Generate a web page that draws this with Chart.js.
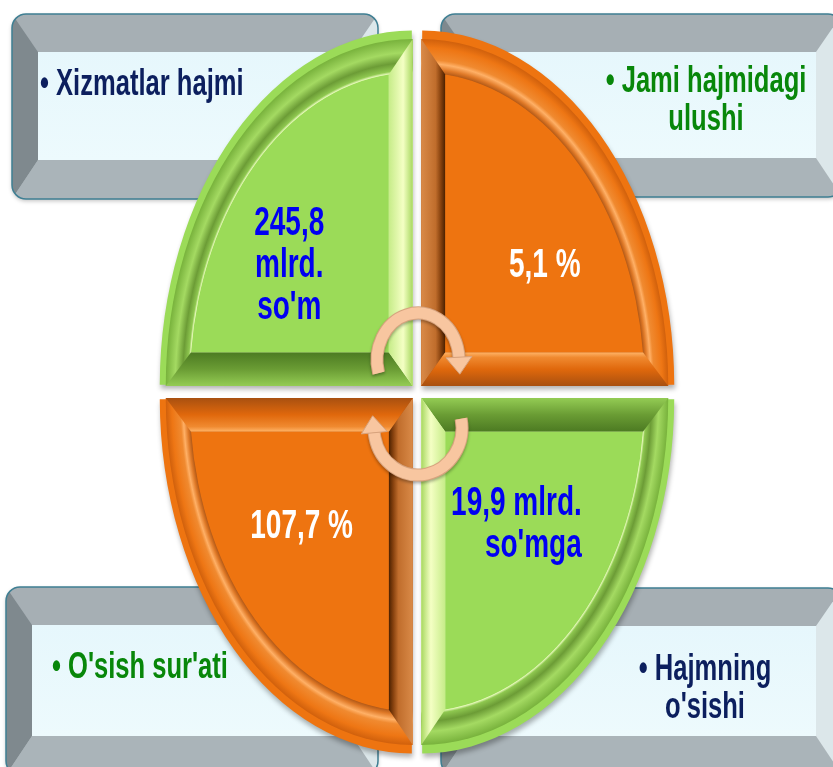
<!DOCTYPE html>
<html>
<head>
<meta charset="utf-8">
<script src="https://cdn.jsdelivr.net/npm/chart.js@4.4.0/dist/chart.umd.min.js"></script>
<style>
  html, body { margin: 0; padding: 0; background: #fff; }
  #myChart { display: block; }
</style>
</head>
<body>
<canvas id="myChart" width="833" height="767"></canvas>
<script>
// data: four equal quadrants, each carrying one indicator
const categories = ["Xizmatlar hajmi", "Jami hajmidagi ulushi", "Hajmning o'sishi", "O'sish sur'ati"];
const valueTexts = ["245,8 mlrd. so'm", "5,1 %", "19,9 mlrd. so'mga", "107,7 %"];
const shares = [1, 1, 1, 1];

const NAVY = "#0c1f5e";
const DARKGREEN = "#08870a";
const BLUE = "#0000f2";

const palettes = {
    green: {
        face: "#9bdb58",
        curve: [[0, "#f2ffc8"], [0.08, "#8fc850"], [0.3, "#6c9c36"], [0.6, "#a4da62"], [1, "#78b23c"]],
        dark: [[0, "#94cc54"], [0.5, "#6a9c34"], [1, "#4c7a22"]],
        light: [[0, "#a8d860"], [0.4, "#f4ffc4"], [1, "#c6ec88"]],
        text: BLUE
    },
    orange: {
        face: "#ee7410",
        curve: [[0, "#b35a18"], [0.12, "#e07a28"], [0.28, "#ffb066"], [0.4, "#f08a30"], [0.75, "#ee7614"], [1, "#d0600c"]],
        dark: [[0, "#d98a48"], [0.6, "#c06d2c"], [0.8, "#8a4410"], [1, "#4a2000"]],
        light: [[0, "#a85010"], [0.5, "#e0680c"], [0.85, "#f08a30"], [1, "#ffb468"]],
        text: "#ffffff"
    }
};

const sliceLayout = [
    { kind: "green", dx: -0.5, dy: -0.5, align: "center", wrap: 90 },
    { kind: "orange", dx: 0.5, dy: -0.5, align: "center", wrap: 200 },
    { kind: "green", dx: 0.65, dy: 0.5, align: "right", wrap: 140 },
    { kind: "orange", dx: -0.45, dy: 0.51, align: "center", wrap: 200 }
];

const boxLayout = [
    { x0: 12, y0: 14, x1: 378, y1: 199, tx: 40, ty: 95, align: "left", wrap: 400, color: NAVY },
    { x0: 441, y0: 14, x1: 842, y1: 197, tx: 706, ty: 92, align: "center", wrap: 210, color: DARKGREEN },
    { x0: 441, y0: 588, x1: 842, y1: 775, tx: 705, ty: 680, align: "center", wrap: 150, color: NAVY },
    { x0: 6, y0: 587, x1: 378, y1: 775, tx: 52, ty: 678, align: "left", wrap: 400, color: DARKGREEN }
];

const KY = 1.405;   // vertical stretch of the circle
const BEVEL = 24;
const FONT = '"Liberation Sans", Arial, sans-serif';

let wrapText = (ctx, text, maxW, sx) => {
    let words = text.split(" "), lines = [], cur = "";
    words.forEach(w => {
        let test = cur ? cur + " " + w : w;
        if (cur && ctx.measureText(test).width * sx > maxW) {
            lines.push(cur);
            cur = w;
        } else {
            cur = test;
        }
    });
    if (cur) lines.push(cur);
    return lines;
};

let squeezedText = (ctx, str, x, y, align, sx) => {
    ctx.save();
    ctx.translate(x, y);
    ctx.scale(sx, 1);
    ctx.textAlign = align;
    ctx.fillText(str, 0, 0);
    ctx.restore();
};

let poly = (ctx, pts, fill) => {
    ctx.beginPath();
    ctx.moveTo(pts[0][0], pts[0][1]);
    for (let i = 1; i < pts.length; i++) ctx.lineTo(pts[i][0], pts[i][1]);
    ctx.closePath();
    ctx.fillStyle = fill;
    ctx.fill();
};

let linGrad = (ctx, p, q, stops) => {
    let g = ctx.createLinearGradient(p[0], p[1], q[0], q[1]);
    stops.forEach(s => g.addColorStop(s[0], s[1]));
    return g;
};

let drawBox = (ctx, b) => {
    const bl = 26, bt = 38, bb = 39;
    let { x0, y0, x1, y1 } = b;
    ctx.save();
    ctx.shadowColor = "rgba(0,0,0,0.25)";
    ctx.shadowBlur = 4;
    ctx.shadowOffsetY = 2;
    ctx.beginPath();
    ctx.roundRect(x0, y0, x1 - x0, y1 - y0, 14);
    ctx.fillStyle = "#a9b2b7";
    ctx.fill();
    ctx.restore();

    ctx.save();
    ctx.beginPath();
    ctx.roundRect(x0, y0, x1 - x0, y1 - y0, 14);
    ctx.clip();
    poly(ctx, [[x0, y0], [x1, y0], [x1 - bl, y0 + bt], [x0 + bl, y0 + bt]], "#a6afb4");
    poly(ctx, [[x0, y0], [x0 + bl, y0 + bt], [x0 + bl, y1 - bb], [x0, y1]], "#7f898e");
    poly(ctx, [[x0, y1], [x0 + bl, y1 - bb], [x1 - bl, y1 - bb], [x1, y1]], "#aab4b9");
    poly(ctx, [[x1, y0], [x1, y1], [x1 - bl, y1 - bb], [x1 - bl, y0 + bt]], "#dce7ea");
    ctx.fillStyle = linGrad(ctx, [0, y0 + bt], [0, y1 - bb], [[0, "#e6f7fc"], [1, "#edfafd"]]);
    ctx.fillRect(x0 + bl, y0 + bt, x1 - x0 - 2 * bl, y1 - y0 - bt - bb);
    ctx.restore();

    ctx.beginPath();
    ctx.roundRect(x0, y0, x1 - x0, y1 - y0, 14);
    ctx.strokeStyle = "#3f7f93";
    ctx.lineWidth = 1.5;
    ctx.stroke();
};

let drawBevel = (ctx, arc, pal) => {
    const off = (arc.options.offset || 0) / 4;
    const a0 = arc.startAngle, a1 = arc.endAngle, mid = (a0 + a1) / 2;
    const cx = arc.x + Math.cos(mid) * off, cy = arc.y + Math.sin(mid) * off;
    const R = arc.outerRadius, T = BEVEL;
    const u0 = [Math.cos(a0), Math.sin(a0)], u1 = [Math.cos(a1), Math.sin(a1)];
    const P = (s, w) => [cx + s * u0[0] + w * u1[0], cy + s * u0[1] + w * u1[1]];
    const ri = R - T, s = Math.sqrt(ri * ri - T * T), da = Math.asin(T / ri);

    // curved outer band
    let rg = ctx.createRadialGradient(cx, cy, ri, cx, cy, R);
    pal.curve.forEach(c => rg.addColorStop(c[0], c[1]));
    ctx.beginPath();
    ctx.moveTo(cx, cy);
    ctx.arc(cx, cy, R, a0, a1);
    ctx.closePath();
    ctx.fillStyle = rg;
    ctx.fill();

    // straight bands
    poly(ctx, [P(0, 0), P(R, 0), P(s, T), P(T, T)], linGrad(ctx, P(0, 0), P(0, T), pal.dark));
    poly(ctx, [P(0, 0), P(T, T), P(T, s), P(0, R)], linGrad(ctx, P(0, 0), P(T, 0), pal.light));

    // face
    ctx.beginPath();
    let p = P(T, T);
    ctx.moveTo(p[0], p[1]);
    p = P(s, T);
    ctx.lineTo(p[0], p[1]);
    ctx.arc(cx, cy, ri, a0 + da, a1 - da);
    p = P(T, s);
    ctx.lineTo(p[0], p[1]);
    ctx.closePath();
    ctx.fillStyle = pal.face;
    ctx.fill();
};

let drawArrow = (ctx, cx, cy, rx, ry, a0, a1) => {
    const w = 11;
    ctx.save();
    ctx.shadowColor = "rgba(0,0,0,0.3)";
    ctx.shadowBlur = 3;
    ctx.shadowOffsetY = 2;
    ctx.beginPath();
    ctx.ellipse(cx, cy, rx, ry, 0, a0, a1);
    ctx.strokeStyle = "#d7a37e";
    ctx.lineWidth = w + 2;
    ctx.stroke();
    ctx.shadowColor = "transparent";
    ctx.strokeStyle = "#f8c6a0";
    ctx.lineWidth = w;
    ctx.stroke();

    let px = cx + rx * Math.cos(a1), py = cy + ry * Math.sin(a1);
    let tx = -rx * Math.sin(a1), ty = ry * Math.cos(a1);
    let n = Math.hypot(tx, ty);
    tx /= n; ty /= n;
    let nx = -ty, ny = tx;
    ctx.beginPath();
    ctx.moveTo(px + tx * 17, py + ty * 17);
    ctx.lineTo(px + nx * 13, py + ny * 13);
    ctx.lineTo(px - nx * 13, py - ny * 13);
    ctx.closePath();
    ctx.fillStyle = "#f8c6a0";
    ctx.fill();
    ctx.strokeStyle = "#d7a37e";
    ctx.lineWidth = 1;
    ctx.stroke();
    ctx.restore();
};

const decorPlugin = {
    id: "decor",
    beforeDraw(chart) {
        let ctx = chart.ctx;
        ctx.save();
        ctx.font = "bold 36px " + FONT;
        ctx.textBaseline = "alphabetic";
        boxLayout.forEach((b, i) => {
            drawBox(ctx, b);
            ctx.fillStyle = b.color;
            let lines = wrapText(ctx, "\u2022 " + categories[i], b.wrap, 0.71);
            lines.forEach((l, k) => squeezedText(ctx, l, b.tx, b.ty + k * 38, b.align, 0.71));
        });
        ctx.restore();
    },
    beforeDatasetsDraw(chart) {
        let ctx = chart.ctx, a = chart.getDatasetMeta(0).data[0];
        ctx.save();
        ctx.translate(a.x, a.y);
        ctx.scale(1, KY);
        ctx.translate(-a.x, -a.y);
        ctx.shadowColor = "rgba(0,0,0,0.3)";
        ctx.shadowBlur = 5;
        ctx.shadowOffsetX = 1;
        ctx.shadowOffsetY = 4;
    },
    afterDatasetsDraw(chart) {
        let ctx = chart.ctx, arcs = chart.getDatasetMeta(0).data;
        ctx.shadowColor = "transparent";
        arcs.forEach((arc, i) => drawBevel(ctx, arc, palettes[sliceLayout[i].kind]));
        ctx.restore();

        let cx = arcs[0].x, cy = arcs[0].y;
        drawArrow(ctx, cx + 1, cy - 32, 41, 47, 2.86, 2 * Math.PI - 0.06);
        drawArrow(ctx, cx + 1, cy + 36, 44, 47, -0.2, Math.PI - 0.1);

        // value labels
        ctx.save();
        ctx.font = "bold 40px " + FONT;
        arcs.forEach((arc, i) => {
            let lay = sliceLayout[i], R = arc.outerRadius;
            let off = (arc.options.offset || 0) / 4, mid = (arc.startAngle + arc.endAngle) / 2;
            let kx = arc.x + Math.cos(mid) * off, ky = arc.y + Math.sin(mid) * off * KY;
            let xc = kx + lay.dx * R, yc = ky + lay.dy * R;
            let lines = wrapText(ctx, valueTexts[i], lay.wrap, 0.7);
            let lh = 42, cap = 29;
            let b1 = yc - ((lines.length - 1) * lh + cap) / 2 + cap;
            ctx.fillStyle = palettes[lay.kind].text;
            lines.forEach((l, k) => squeezedText(ctx, l, xc, b1 + k * lh, lay.align, 0.7));
        });
        ctx.restore();
    }
};

let data = {
    labels: categories,
    datasets: [{
        data: shares,
        backgroundColor: sliceLayout.map(s => palettes[s.kind].face),
        borderWidth: 0,
        offset: 24,
        clip: false
    }]
};

const config = {
    type: "polarArea",
    data: data,
    options: {
        responsive: false,
        animation: false,
        devicePixelRatio: 1,
        events: [],
        layout: { padding: { left: 170, right: 168, top: 145, bottom: 127 } },
        scales: {
            r: { display: false, min: 0, max: 1, startAngle: -90 }
        },
        plugins: {
            legend: { display: false },
            tooltip: { enabled: false }
        }
    },
    plugins: [decorPlugin]
};

var myChart = new Chart(document.getElementById("myChart"), config);
</script>
</body>
</html>
